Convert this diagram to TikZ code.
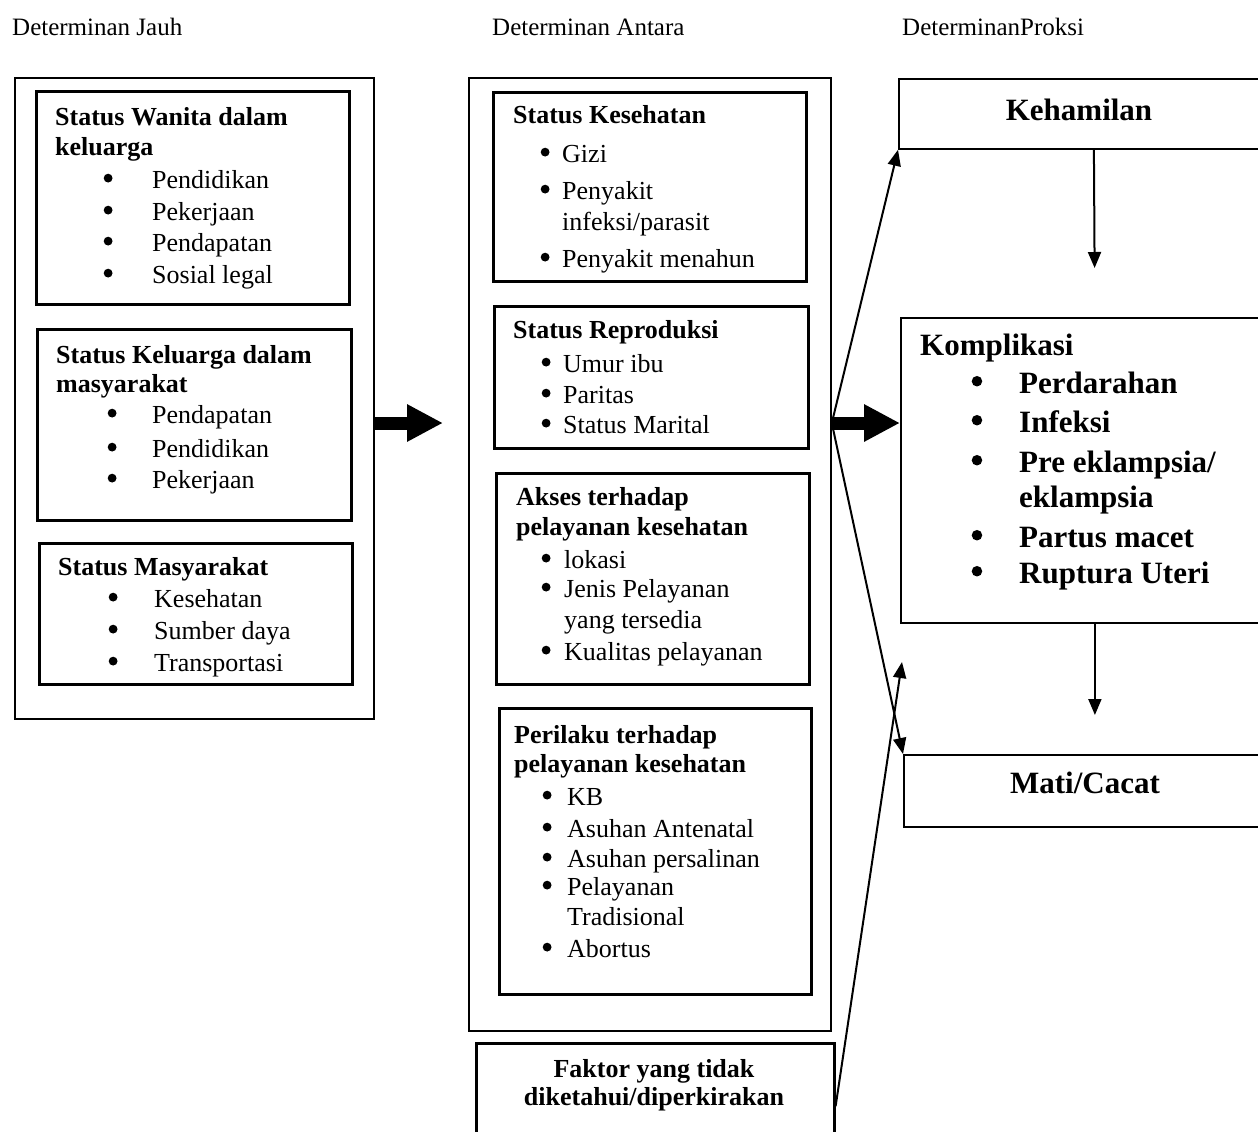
\documentclass[tikz,border=0pt]{standalone}
\usepackage{fontspec}
\setmainfont{Liberation Serif}
\usetikzlibrary{arrows.meta}

\newcommand{\bigdot}[1]{\tikz[baseline=-0.38em]\fill (0,0) circle (#1);}
\newcommand{\dotline}[2]{\makebox[#1][l]{\bigdot{0.17em}}#2}

\begin{document}
\begin{tikzpicture}[x=1pt, y=-1pt,
    outer/.style={draw, line width=1.8pt, anchor=north west, inner sep=0pt},
    inner/.style={draw, line width=2.6pt, anchor=north west, inner sep=0pt},
    hd/.style={anchor=base west, inner sep=0pt, font=\fontsize{25}{30}\selectfont},
    ttl/.style={anchor=base west, inner sep=0pt, font=\fontsize{26}{31}\selectfont\bfseries},
    itm/.style={anchor=base west, inner sep=0pt, font=\fontsize{26}{31}\selectfont},
    big/.style={anchor=base west, inner sep=0pt, font=\fontsize{31}{37}\selectfont\bfseries},
    thinarrow/.style={line width=2pt, -{Triangle[length=16pt,width=13pt]}},
    fatarrow/.style={line width=13pt, -{Triangle[length=36pt,width=35pt]}}]
    \useasboundingbox (0,0) rectangle (1258,1132);

    % headings
    \node[hd] (hjauh) at (12,36) {Determinan Jauh};
    \node[hd] (hantara) at (492,36) {Determinan Antara};
    \node[hd] (hproksi) at (902,36) {DeterminanProksi};

    % determinan jauh
    \node[outer, minimum width=359pt, minimum height=641pt] (jauh) at (14,77) {};
    \node[inner, minimum width=313pt, minimum height=213pt] (wanita) at (35,90) {};
    \node[ttl] (wanita1) at (55,125) {Status Wanita dalam};
    \node[ttl] (wanita2) at (55,155) {keluarga};
    \node[itm] (wanita3) at (103.5,188) {\dotline{48.5pt}{Pendidikan}};
    \node[itm] (wanita4) at (103.5,220) {\dotline{48.5pt}{Pekerjaan}};
    \node[itm] (wanita5) at (103.5,251) {\dotline{48.5pt}{Pendapatan}};
    \node[itm] (wanita6) at (103.5,283) {\dotline{48.5pt}{Sosial legal}};

    \node[inner, minimum width=314pt, minimum height=191pt] (keluarga) at (36,328) {};
    \node[ttl] (keluarga1) at (56,363) {Status Keluarga dalam};
    \node[ttl] (keluarga2) at (56,392) {masyarakat};
    \node[itm] (keluarga3) at (107.5,423) {\dotline{44.5pt}{Pendapatan}};
    \node[itm] (keluarga4) at (107.5,457) {\dotline{44.5pt}{Pendidikan}};
    \node[itm] (keluarga5) at (107.5,488) {\dotline{44.5pt}{Pekerjaan}};

    \node[inner, minimum width=313pt, minimum height=141pt] (masy) at (38,542) {};
    \node[ttl] (masy1) at (58,575) {Status Masyarakat};
    \node[itm] (masy2) at (108.5,607) {\dotline{45.5pt}{Kesehatan}};
    \node[itm] (masy3) at (108.5,639) {\dotline{45.5pt}{Sumber daya}};
    \node[itm] (masy4) at (108.5,671) {\dotline{45.5pt}{Transportasi}};

    % determinan antara
    \node[outer, minimum width=362pt, minimum height=953pt] (antara) at (468,77) {};
    \node[inner, minimum width=313pt, minimum height=189pt] (sehat) at (492,91) {};
    \node[ttl] (sehat1) at (513,123) {Status Kesehatan};
    \node[itm] (sehat2) at (540.5,162) {\dotline{21.5pt}{Gizi}};
    \node[itm] (sehat3) at (540.5,199) {\dotline{21.5pt}{Penyakit}};
    \node[itm] (sehat4) at (562,230) {infeksi/parasit};
    \node[itm] (sehat5) at (540.5,267) {\dotline{21.5pt}{Penyakit menahun}};

    \node[inner, minimum width=314pt, minimum height=142pt] (repro) at (493,305) {};
    \node[ttl] (repro1) at (513,338) {Status Reproduksi};
    \node[itm] (repro2) at (541.5,372) {\dotline{21.5pt}{Umur ibu}};
    \node[itm] (repro3) at (541.5,403) {\dotline{21.5pt}{Paritas}};
    \node[itm] (repro4) at (541.5,433) {\dotline{21.5pt}{Status Marital}};

    \node[inner, minimum width=313pt, minimum height=211pt] (akses) at (495,472) {};
    \node[ttl] (akses1) at (516,505) {Akses terhadap};
    \node[ttl] (akses2) at (516,535) {pelayanan kesehatan};
    \node[itm] (akses3) at (541.5,568) {\dotline{22.5pt}{lokasi}};
    \node[itm] (akses4) at (541.5,597) {\dotline{22.5pt}{Jenis Pelayanan}};
    \node[itm] (akses5) at (564,628) {yang tersedia};
    \node[itm] (akses6) at (541.5,660) {\dotline{22.5pt}{Kualitas pelayanan}};

    \node[inner, minimum width=312pt, minimum height=286pt] (perilaku) at (498,707) {};
    \node[ttl] (perilaku1) at (514,743) {Perilaku terhadap};
    \node[ttl] (perilaku2) at (514,772) {pelayanan kesehatan};
    \node[itm] (perilaku3) at (542.5,805) {\dotline{24.5pt}{KB}};
    \node[itm] (perilaku4) at (542.5,837) {\dotline{24.5pt}{Asuhan Antenatal}};
    \node[itm] (perilaku5) at (542.5,867) {\dotline{24.5pt}{Asuhan persalinan}};
    \node[itm] (perilaku6) at (542.5,895) {\dotline{24.5pt}{Pelayanan}};
    \node[itm] (perilaku7) at (567,925) {Tradisional};
    \node[itm] (perilaku8) at (542.5,957) {\dotline{24.5pt}{Abortus}};

    \node[inner, minimum width=358pt, minimum height=126pt] (faktor) at (475,1042) {};
    \node[ttl, anchor=base] (faktor1) at (654,1077) {Faktor yang tidak};
    \node[ttl, anchor=base] (faktor2) at (654,1105) {diketahui/diperkirakan};

    % determinan proksi
    \node[outer, minimum width=390pt, minimum height=70pt] (hamil) at (898,78) {};
    \node[big, anchor=base] (hamil1) at (1079,120) {Kehamilan};

    \node[outer, minimum width=388pt, minimum height=305pt] (kompli) at (900,317) {};
    \node[big] (kompli1) at (920,355) {Komplikasi};
    \node[big] (kompli2) at (971.5,393) {\dotline{47.5pt}{Perdarahan}};
    \node[big] (kompli3) at (971.5,432) {\dotline{47.5pt}{Infeksi}};
    \node[big] (kompli4) at (971.5,472) {\dotline{47.5pt}{Pre eklampsia/}};
    \node[big] (kompli5) at (1019,507) {eklampsia};
    \node[big] (kompli6) at (971.5,547) {\dotline{47.5pt}{Partus macet}};
    \node[big] (kompli7) at (971.5,583) {\dotline{47.5pt}{Ruptura Uteri}};

    \node[outer, minimum width=382pt, minimum height=72pt] (mati) at (903,754) {};
    \node[big, anchor=base] (mati1) at (1085,793) {Mati/Cacat};

    % arrows
    \coordinate (jtip) at (443,423);
    \coordinate (ktip) at (900,423);
    \coordinate (ftip) at (902,662);
    \coordinate (fork) at (antara.east |- ktip);
    \draw[fatarrow] (jauh.east |- jtip) -- (jtip);
    \draw[fatarrow] (fork) -- (ktip);
    \draw[thinarrow] (fork) -- (hamil.south west);
    \draw[thinarrow] (fork) -- (mati.north west);
    \draw[thinarrow] (faktor.east) -- (ftip);
    \draw[thinarrow, shorten >=49pt] (hamil.south) -- (kompli.north);
    \draw[thinarrow, shorten >=39pt] (kompli.south) -- (mati.north);
\end{tikzpicture}
\end{document}
